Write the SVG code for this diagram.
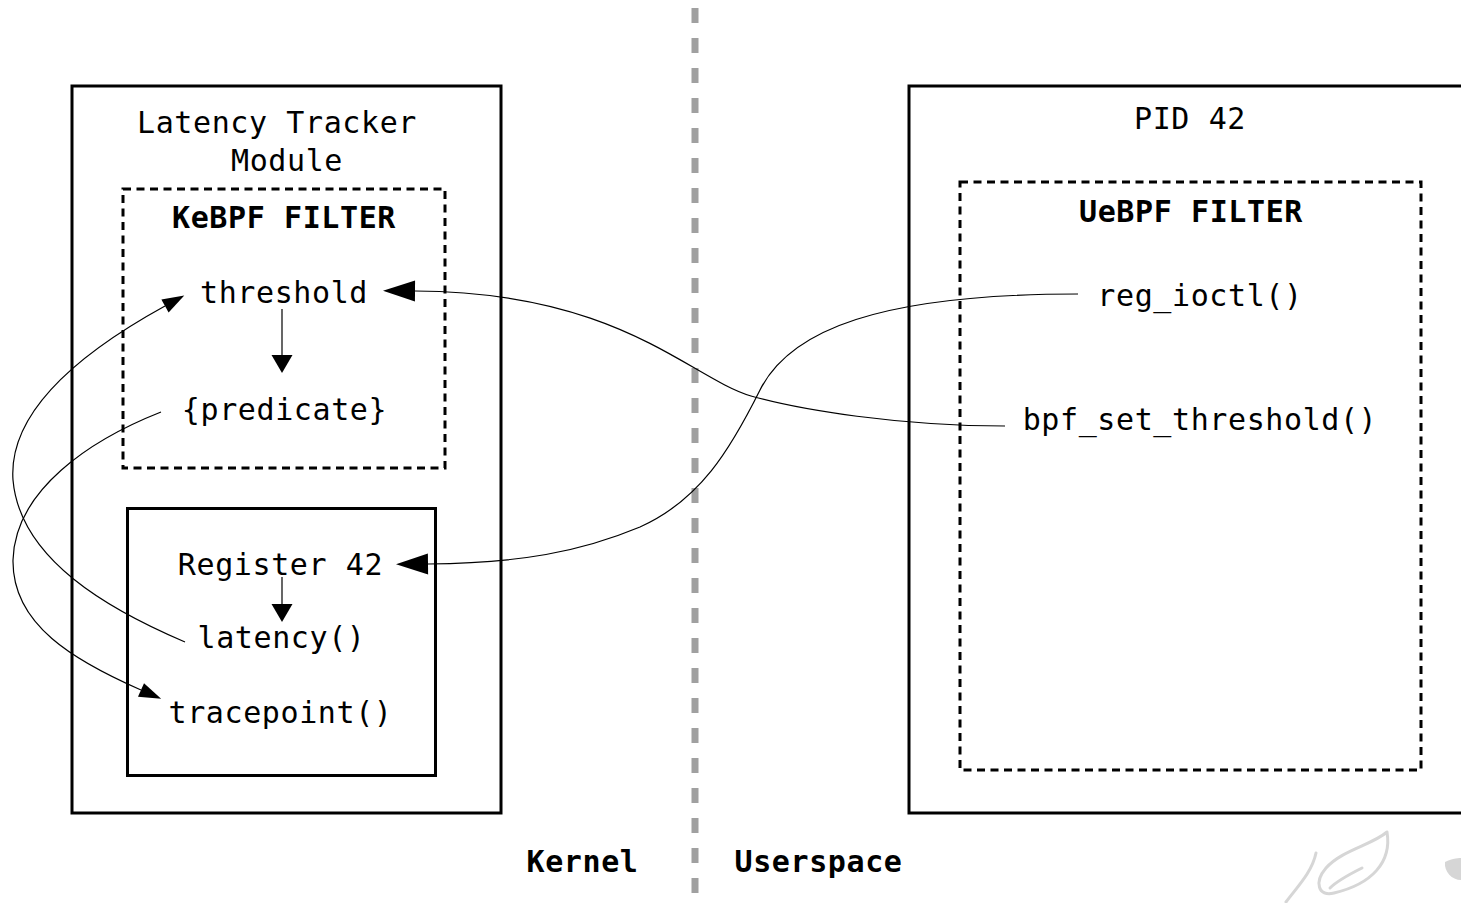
<svg xmlns="http://www.w3.org/2000/svg" width="1461" height="903" viewBox="0 0 1461 903">
<style>
.box{fill:none;stroke:#000;stroke-width:3}
.dash{fill:none;stroke:#000;stroke-width:3;stroke-dasharray:8 5.5}
.t{font-family:"DejaVu Sans Mono","Liberation Mono",monospace;font-size:30px;letter-spacing:0.6px;text-anchor:middle;fill:#000}
.b{font-weight:bold}
.c{fill:none;stroke:#000;stroke-width:1.2}
.wm{fill:none;stroke:#d6d6d6;stroke-width:3;stroke-linecap:round}
</style>
<defs>
<marker id="ah" markerUnits="userSpaceOnUse" markerWidth="32" markerHeight="21" refX="0" refY="10.5" orient="auto" overflow="visible"><path d="M0,0 L32,10.5 L0,21 z" fill="#000"/></marker>
<marker id="av" markerUnits="userSpaceOnUse" markerWidth="18" markerHeight="21" refX="0" refY="10.5" orient="auto" overflow="visible"><path d="M0,0 L18,10.5 L0,21 z" fill="#000"/></marker>
<marker id="ac" markerUnits="userSpaceOnUse" markerWidth="22" markerHeight="15" refX="0" refY="7.5" orient="auto" overflow="visible"><path d="M0,0 L22,7.5 L0,15 z" fill="#000"/></marker>
</defs>
<rect width="1461" height="903" fill="#fff"/>

<g id="divider">
<line x1="695" y1="8" x2="695" y2="903" stroke="#a0a0a0" stroke-width="7" stroke-dasharray="15 15"/>
</g>

<g id="watermark">
<path class="wm" d="M1387,832 C1372,845 1342,850 1326,868 C1314,882 1318,897 1334,893 C1372,884 1392,862 1387,832"/>
<path class="wm" d="M1362,868 C1350,874 1338,880 1330,888"/>
<path class="wm" d="M1316,853 C1312,872 1298,886 1286,902"/>
<path d="M1445,862 C1452,858 1461,858 1461,858 L1461,880 C1452,880 1444,872 1445,862 z" fill="#d6d6d6"/>
</g>

<g id="latency-tracker-module">
<rect class="box" x="72" y="86" width="429" height="727"/>
<text class="t" x="277" y="133">Latency Tracker</text>
<text class="t" x="287" y="171">Module</text>
</g>

<g id="kebpf-filter">
<rect class="dash" x="123" y="189" width="322" height="279"/>
<text class="t b" x="284" y="228">KeBPF FILTER</text>
</g>

<g id="threshold"><text class="t" x="284" y="303">threshold</text></g>
<g id="predicate"><text class="t" x="284.5" y="420">{predicate}</text></g>

<g id="register-box">
<rect class="box" x="127.5" y="508.5" width="308" height="267"/>
</g>
<g id="register42"><text class="t" x="280.5" y="575">Register 42</text></g>
<g id="latency"><text class="t" x="281.5" y="648">latency()</text></g>
<g id="tracepoint"><text class="t" x="280.5" y="723">tracepoint()</text></g>

<g id="pid42">
<rect class="box" x="909" y="86" width="580" height="727"/>
<text class="t" x="1190" y="129">PID 42</text>
</g>

<g id="uebpf-filter">
<rect class="dash" x="960" y="182" width="461" height="588"/>
<text class="t b" x="1191" y="222">UeBPF FILTER</text>
</g>
<g id="reg-ioctl"><text class="t" x="1200" y="306">reg_ioctl()</text></g>
<g id="bpf-set-threshold"><text class="t" x="1200" y="430">bpf_set_threshold()</text></g>

<g id="kernel-label"><text class="t b" x="582.5" y="872">Kernel</text></g>
<g id="userspace-label"><text class="t b" x="818.5" y="872">Userspace</text></g>

<g id="connectors">
<path class="c" d="M282,309 L282,355" marker-end="url(#av)"/>
<path class="c" d="M282,577 L282,604" marker-end="url(#av)"/>
<path class="c" d="M1005,426 C900,426 800,410 751,396 C690,378 620,292 415,291" marker-end="url(#ah)"/>
<path class="c" d="M1078,294 C880,294 790,330 760,390 C730,450 700,500 640,527 C580,552 520,563 428,564" marker-end="url(#ah)"/>
<path class="c" d="M185,642 C110,610 20,560 13,480 C8,410 85,350 165,306" marker-end="url(#ac)"/>
<path class="c" d="M161,412 C90,440 15,490 13,560 C12,625 75,661 141,690" marker-end="url(#ac)"/>
</g>
</svg>
